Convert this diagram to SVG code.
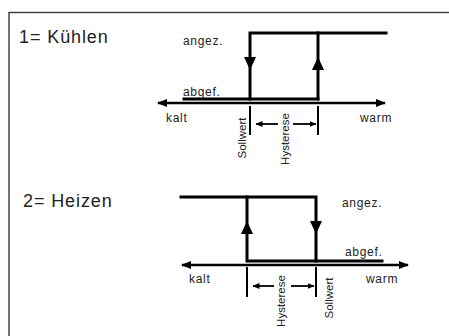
<svg xmlns="http://www.w3.org/2000/svg" width="449" height="336" viewBox="0 0 449 336">
  <style>
    .frame { fill: none; stroke: #3a3a3a; stroke-width: 1.4; }
    .thick { fill: none; stroke: #000; stroke-width: 3; stroke-linecap: square; }
    .axis { fill: none; stroke: #000; stroke-width: 2.5; }
    .tick { fill: none; stroke: #000; stroke-width: 2; }
    .dim { fill: none; stroke: #000; stroke-width: 1.8; }
    .head { fill: #000; }
    .title { font-family: "Liberation Sans", Arial, sans-serif; font-size: 18px; fill: #222; letter-spacing: 0.9px; }
    .lbl { font-family: "Liberation Sans", Arial, sans-serif; font-size: 12px; fill: #222; letter-spacing: 0.7px; }
    .vlbl { font-family: "Liberation Sans", Arial, sans-serif; font-size: 11.5px; fill: #222; text-anchor: middle; }
  </style>
  <defs>
    <marker id="axisHead" viewBox="0 0 10 8" refX="9" refY="4" markerWidth="10" markerHeight="8" markerUnits="userSpaceOnUse" orient="auto-start-reverse">
      <path d="M0,0 L10,4 L0,8 Z" class="head"/>
    </marker>
    <marker id="dimHead" viewBox="0 0 7 6" refX="6.5" refY="3" markerWidth="7" markerHeight="6" markerUnits="userSpaceOnUse" orient="auto">
      <path d="M0,0 L7,3 L0,6 Z" class="head"/>
    </marker>
  </defs>

  <rect class="frame" x="9" y="12.5" width="460" height="340"/>

  <!-- Mode 1: cooling -->
  <g id="cooling">
    <text class="title" x="19" y="43">1= Kühlen</text>
    <g id="cooling-curve">
      <path class="thick" d="M250,99 V33 H386"/>
      <path class="thick" d="M318,33 V99"/>
      <path class="thick" d="M184,99 H318"/>
      <path class="head" d="M244,57 H256 L250,70 Z"/>
      <path class="head" d="M312,70 H324 L318,57 Z"/>
    </g>
    <text class="lbl" x="183" y="45">angez.</text>
    <text class="lbl" x="183" y="96">abgef.</text>
    <text class="lbl" x="166" y="122">kalt</text>
    <text class="lbl" x="360" y="122">warm</text>
    <text class="vlbl" transform="translate(246,138) rotate(-90)">Sollwert</text>
    <text class="vlbl" transform="translate(289,139) rotate(-90)">Hysterese</text>
  </g>

  <!-- Mode 2: heating -->
  <g id="heating">
    <text class="title" x="23" y="207">2= Heizen</text>
    <g id="heating-curve">
      <path class="thick" d="M181,197 H316 V261"/>
      <path class="thick" d="M247,197 V261 H382"/>
      <path class="head" d="M241,234 H253 L247,221 Z"/>
      <path class="head" d="M310,221 H322 L316,234 Z"/>
    </g>
    <text class="lbl" x="342" y="207">angez.</text>
    <text class="lbl" x="345" y="256">abgef.</text>
    <text class="lbl" x="189" y="283">kalt</text>
    <text class="lbl" x="366" y="283">warm</text>
    <text class="vlbl" transform="translate(285,301) rotate(-90)">Hysterese</text>
    <text class="vlbl" transform="translate(333,298) rotate(-90)">Sollwert</text>
  </g>

  <!-- Axes, setpoint ticks and hysteresis dimensions -->
  <g id="connectors">
    <path class="axis" d="M158,103 H385" marker-start="url(#axisHead)" marker-end="url(#axisHead)"/>
    <path class="tick" d="M250,106 V135 M318,106 V135"/>
    <path class="dim" d="M278,124 H256" marker-end="url(#dimHead)"/>
    <path class="dim" d="M293,124 H316" marker-end="url(#dimHead)"/>

    <path class="axis" d="M182,265 H408" marker-start="url(#axisHead)" marker-end="url(#axisHead)"/>
    <path class="tick" d="M247,267 V297 M316,267 V297"/>
    <path class="dim" d="M274,286 H253" marker-end="url(#dimHead)"/>
    <path class="dim" d="M291,286 H314" marker-end="url(#dimHead)"/>
  </g>
</svg>
